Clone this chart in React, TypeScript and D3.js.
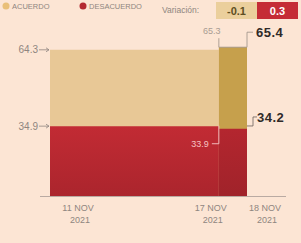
import React from 'react';
import * as d3 from 'd3';

// data
const dates = ['2021-11-11', '2021-11-17', '2021-11-18'];
const dateLabels = [['11 NOV', '2021'], ['17 NOV', '2021'], ['18 NOV', '2021']];
const acuerdo = [64.3, 65.3, 65.4];
const desacuerdo = [34.9, 33.9, 34.2];
const variacion = [-0.1, 0.3];
const legendLabels = ['ACUERDO', 'DESACUERDO'];

// layout
const W = 301;
const H = 243;
const tickShift = [28, -8, 18];
const BG = '#fce5d4';
const BEIGE = '#e8c896';
const GOLD = '#c6a04c';
const RED = '#b8272f';
const GRAY = '#8f8580';
const FONT = '"Liberation Sans", Arial, sans-serif';

const parse = d3.timeParse('%Y-%m-%d');

const App: React.FC = () => {
  const pts = dates.map((d, i) => ({
    date: parse(d) as Date,
    a: acuerdo[i],
    d: desacuerdo[i],
  }));

  const x = d3.scaleTime()
    .domain(d3.extent(pts, p => p.date) as [Date, Date])
    .range([50, 247]);

  const y = d3.scaleLinear().domain([8, 70]).range([196, 35]);

  const topArea = d3.area<typeof pts[0]>()
    .x(p => x(p.date))
    .y0(y(8))
    .y1(p => y(p.a))
    .curve(d3.curveStepAfter);

  const redArea = d3.area<typeof pts[0]>()
    .x(p => x(p.date))
    .y0(y(8))
    .y1(p => y(p.d))
    .curve(d3.curveStepAfter);

  const segs = d3.pairs(pts);
  const segColors = [BEIGE, GOLD];
  const redColors = ['url(#redGrad)', 'url(#redGrad2)'];

  const x0 = x(pts[0].date);
  const xa = x(pts[1].date);
  const xb = x(pts[2].date);
  const yTop = y(acuerdo[1]);
  const yRed = y(desacuerdo[1]);
  const yRedLast = y(desacuerdo[2]);

  return (
    <svg width={W} height={H} style={{ position: 'absolute', left: 0, top: 0 }} fontFamily={FONT}>
      <defs>
        <linearGradient id="redGrad" x1="0" x2="0" y1="0" y2="1">
          <stop offset="0%" stopColor="#c22b34" />
          <stop offset="100%" stopColor="#ab252d" />
        </linearGradient>
        <linearGradient id="redGrad2" x1="0" x2="0" y1="0" y2="1">
          <stop offset="0%" stopColor="#b4262f" />
          <stop offset="100%" stopColor="#a0232a" />
        </linearGradient>
      </defs>
      <rect width={W} height={H} fill={BG} />

      {/* legend */}
      <circle cx={6} cy={6} r={3.5} fill="#e9bf78" />
      <text x={12} y={9} fontSize={7.5} fill={GRAY}>{legendLabels[0]}</text>
      <circle cx={83} cy={6} r={3.5} fill="#b42930" />
      <text x={89} y={9} fontSize={7.5} fill={GRAY}>{legendLabels[1]}</text>

      {/* variation boxes */}
      <text x={162} y={13} fontSize={8.5} fill={GRAY}>Variación:</text>
      <rect x={216} y={2} width={41} height={17} fill="#ebcf9c" />
      <text x={236.5} y={14.5} fontSize={11} fontWeight="bold" fill="#5e4e22" textAnchor="middle">
        {variacion[0].toFixed(1)}
      </text>
      <rect x={257} y={2} width={41} height={17} fill="#c52c36" />
      <text x={277.5} y={14.5} fontSize={11} fontWeight="bold" fill="#ffffff" textAnchor="middle">
        {variacion[1].toFixed(1)}
      </text>

      {/* areas */}
      {segs.map((s, i) => (
        <path key={'t' + i} d={topArea(s) as string} fill={segColors[i]} />
      ))}
      {segs.map((s, i) => (
        <path key={'r' + i} d={redArea(s) as string} fill={redColors[i]} />
      ))}

      {/* baseline */}
      <line x1={40} x2={286} y1={y(8) + 0.5} y2={y(8) + 0.5} stroke="#b9aaa2" strokeWidth={1} />

      {/* x labels */}
      {pts.map((p, i) => (
        <text key={i} x={x(p.date) + tickShift[i]} y={211} fontSize={9} fill={GRAY} textAnchor="middle">
          <tspan x={x(p.date) + tickShift[i]} dy={0}>{dateLabels[i][0]}</tspan>
          <tspan x={x(p.date) + tickShift[i] + 2} dy={12}>{dateLabels[i][1]}</tspan>
        </text>
      ))}

      {/* left value labels with arrows */}
      {[acuerdo[0], desacuerdo[0]].map((v, i) => (
        <g key={'l' + i}>
          <text x={x0 - 12} y={y(v) + 3.5} fontSize={10} fill={GRAY} textAnchor="end">{v.toFixed(1)}</text>
          <line x1={x0 - 11} x2={x0 - 1} y1={y(v)} y2={y(v)} stroke={GRAY} strokeWidth={0.8} />
          <path d={`M${x0 - 4},${y(v) - 2}L${x0 - 1},${y(v)}L${x0 - 4},${y(v) + 2}`} fill="none" stroke={GRAY} strokeWidth={0.8} />
        </g>
      ))}

      {/* 65.3 bracket */}
      <path
        d={`M${xa},${yTop - 9}V${yTop}H${xb}V${yTop - 15}H${xb + 6}`}
        fill="none" stroke="#9a8f86" strokeWidth={0.8}
      />
      <text x={xa - 7} y={yTop - 13} fontSize={9} fill="#a89c92" textAnchor="middle">{acuerdo[1].toFixed(1)}</text>
      <text x={xb + 9} y={yTop - 10} fontSize={13} fontWeight="bold" fill="#2f2a28" letterSpacing={0.5}>
        {acuerdo[2].toFixed(1)}
      </text>

      {/* 34.2 bracket */}
      <path
        d={`M${xb},${yRedLast - 2}H${xb + 6}V${yRedLast - 11}H${xb + 10}`}
        fill="none" stroke="#6b605a" strokeWidth={0.8}
      />
      <text x={xb + 10} y={yRedLast - 6} fontSize={13} fontWeight="bold" fill="#2f2a28" letterSpacing={0.5}>
        {desacuerdo[2].toFixed(1)}
      </text>

      {/* 33.9 bracket */}
      <path
        d={`M${xa},${yRed - 3}V${yRed + 15}H${xa - 7}`}
        fill="none" stroke="#f6c9c9" strokeWidth={0.9}
      />
      <text x={xa - 10} y={yRed + 18} fontSize={9} fill="#f6c3c3" textAnchor="end">{desacuerdo[1].toFixed(1)}</text>
    </svg>
  );
};

export default App;
